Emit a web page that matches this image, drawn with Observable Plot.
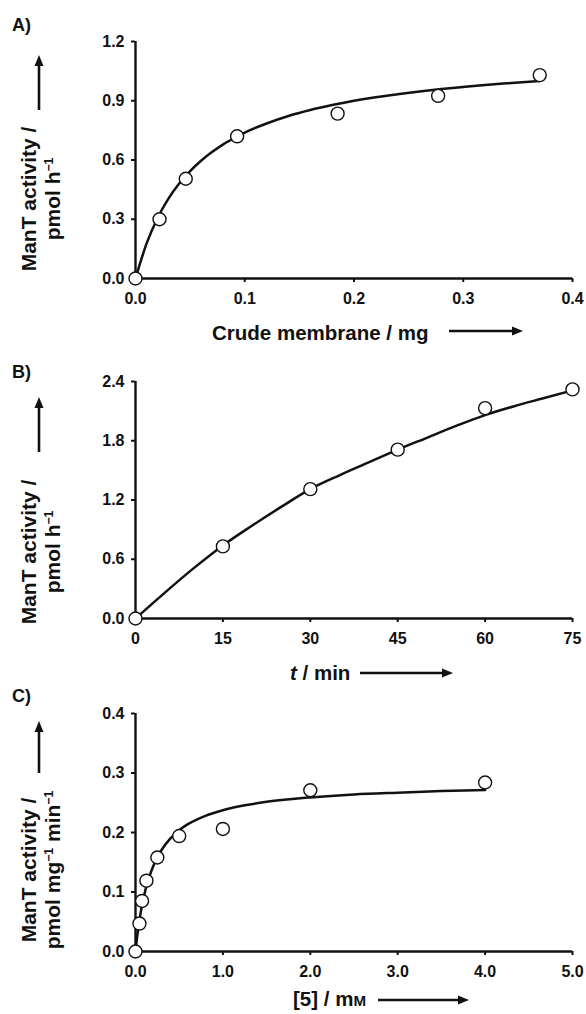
<!DOCTYPE html>
<html><head><meta charset="utf-8">
<script src="https://cdn.jsdelivr.net/npm/d3@7"></script>
<script src="https://cdn.jsdelivr.net/npm/@observablehq/plot@0.6"></script>
<style>
body{margin:0;background:#fff;}
#chart{width:586px;}
#chart svg{display:block;}
</style></head><body><div id="chart"></div>
<script>
// Panel A data
const membraneMg = [0, 0.022, 0.046, 0.093, 0.185, 0.277, 0.370];
const activityA = [0, 0.30, 0.505, 0.72, 0.835, 0.925, 1.03];
const fitMembraneMg = [0,0.01,0.02,0.03,0.04,0.05,0.06,0.07,0.08,0.09,0.10,0.12,0.14,0.16,0.18,0.20,0.22,0.24,0.26,0.28,0.30,0.32,0.34,0.37];
const fitActivityA = [0,0.175,0.304,0.403,0.481,0.544,0.596,0.640,0.678,0.710,0.739,0.785,0.823,0.853,0.878,0.900,0.918,0.933,0.947,0.959,0.970,0.980,0.988,1.0];
const ticksA_x = [0, 0.1, 0.2, 0.3, 0.4];
const ticksA_y = [0, 0.3, 0.6, 0.9, 1.2];

// Panel B data
const timeMin = [0, 15, 30, 45, 60, 75];
const activityB = [0, 0.73, 1.31, 1.71, 2.13, 2.32];
const fitTimeMin = [0,5,10,15,20,25,30,35,40,45,50,55,60,65,70,75];
const fitActivityB = [0,0.26,0.51,0.74,0.94,1.13,1.31,1.45,1.58,1.71,1.83,1.95,2.06,2.15,2.23,2.31];
const ticksB_x = [0, 15, 30, 45, 60, 75];
const ticksB_y = [0, 0.6, 1.2, 1.8, 2.4];

// Panel C data
const conc5 = [0, 0.045, 0.075, 0.125, 0.25, 0.5, 1.0, 2.0, 4.0];
const activityC = [0, 0.047, 0.085, 0.119, 0.158, 0.194, 0.206, 0.271, 0.284];
const fitConc5 = [0,0.02,0.04,0.06,0.08,0.1,0.125,0.15,0.2,0.25,0.3,0.4,0.5,0.6,0.8,1.0,1.25,1.5,2.0,2.5,3.0,3.5,4.0];
const fitActivityC = [0,0.026,0.0475,0.066,0.081,0.095,0.110,0.122,0.1425,0.158,0.171,0.19,0.204,0.214,0.228,0.2375,0.2457,0.2515,0.259,0.264,0.267,0.2696,0.2714];
const ticksC_x = [0, 1, 2, 3, 4, 5];
const ticksC_y = [0, 0.1, 0.2, 0.3, 0.4];

const FONT = "'Liberation Sans', Arial, Helvetica, sans-serif";
const INK = "#111";

function addText(svg, x, y, parts, {size = 19, rotate = false, anchor = "start"} = {}) {
  const t = svg.append("text")
    .attr("font-family", FONT).attr("font-weight", "bold")
    .attr("font-size", size).attr("fill", INK).attr("text-anchor", anchor);
  if (rotate) t.attr("transform", `translate(${x},${y}) rotate(-90)`);
  else t.attr("x", x).attr("y", y);
  let shift = 0;
  for (const p of parts) {
    const s = t.append("tspan").text(p.text);
    const want = p.sup ? -7 : 0;
    if (want !== shift) { s.attr("dy", want - shift); shift = want; }
    if (p.sup) s.attr("font-size", size * 0.58);
    if (p.small) s.attr("font-size", size * 0.74);
    if (p.italic) s.attr("font-style", "italic");
  }
  return t;
}

function addArrow(svg, x1, y1, x2, y2) {
  const dx = x2 - x1, dy = y2 - y1, L = Math.hypot(dx, dy);
  const ux = dx / L, uy = dy / L, head = 11, half = 4.5;
  const bx = x2 - ux * head, by = y2 - uy * head;
  svg.append("line").attr("x1", x1).attr("y1", y1).attr("x2", bx + ux).attr("y2", by + uy)
    .attr("stroke", INK).attr("stroke-width", 2.6);
  svg.append("path")
    .attr("d", `M${x2},${y2}L${bx - uy * half},${by + ux * half}L${bx + uy * half},${by - ux * half}Z`)
    .attr("fill", INK);
}

function panel(cfg) {
  const pts = cfg.xs.map((x, i) => ({x, y: cfg.ys[i]}));
  const fit = cfg.fx.map((x, i) => ({x, y: cfg.fy[i]}));
  const chart = Plot.plot({
    width: 586, height: cfg.height,
    marginLeft: 135, marginRight: 14, marginTop: cfg.marginTop, marginBottom: cfg.height - cfg.frameBottom,
    style: {fontFamily: FONT, fontSize: "16px", fontWeight: "bold", color: INK, background: "white"},
    x: {domain: [cfg.xTicks[0], cfg.xTicks[cfg.xTicks.length - 1]]},
    y: {domain: [cfg.yTicks[0], cfg.yTicks[cfg.yTicks.length - 1]]},
    marks: [
      Plot.axisX({ticks: cfg.xTicks, tickFormat: cfg.xFmt, tickSize: 4, tickPadding: 10, strokeWidth: 2, label: null}),
      Plot.axisY({ticks: cfg.yTicks, tickFormat: cfg.yFmt, tickSize: 4, tickPadding: 7, strokeWidth: 2, label: null}),
      Plot.ruleY([cfg.yTicks[0]], {stroke: INK, strokeWidth: 2.4}),
      Plot.ruleX([cfg.xTicks[0]], {stroke: INK, strokeWidth: 2.4}),
      Plot.line(fit, {x: "x", y: "y", stroke: INK, strokeWidth: 2.5, curve: "monotone-x"}),
      Plot.dot(pts, {x: "x", y: "y", r: 6.5, fill: "white", stroke: INK, strokeWidth: 1.4})
    ]
  });
  const svg = d3.select(chart);
  addText(svg, 12, cfg.letterY, [{text: cfg.letter}], {size: 18});
  addText(svg, 36, cfg.labelCY, [{text: "ManT activity /"}], {size: 21, rotate: true, anchor: "middle"});
  addText(svg, 60, cfg.labelCY, cfg.ylabel2, {size: 21, rotate: true, anchor: "middle"});
  addArrow(svg, 39, cfg.upArrow[0], 39, cfg.upArrow[1]);
  addText(svg, cfg.xlabelX, cfg.xlabelY, cfg.xlabel, {size: 20.5});
  addArrow(svg, cfg.rightArrow[0], cfg.rightArrow[2], cfg.rightArrow[1], cfg.rightArrow[2]);
  document.getElementById("chart").appendChild(chart);
}

panel({
  letter: "A)", letterY: 31, height: 344, marginTop: 41, frameBottom: 278,
  xs: membraneMg, ys: activityA, fx: fitMembraneMg, fy: fitActivityA,
  xTicks: ticksA_x, yTicks: ticksA_y, xFmt: d3.format(".1f"), yFmt: d3.format(".1f"),
  labelCY: 199, ylabel2: [{text: "pmol h"}, {text: "\u22121", sup: true}], upArrow: [110, 55],
  xlabel: [{text: "Crude membrane / mg"}], xlabelX: 212, xlabelY: 340, rightArrow: [449, 523, 331]
});
panel({
  letter: "B)", letterY: 34, height: 340, marginTop: 37, frameBottom: 274,
  xs: timeMin, ys: activityB, fx: fitTimeMin, fy: fitActivityB,
  xTicks: ticksB_x, yTicks: ticksB_y, xFmt: d3.format("d"), yFmt: d3.format(".1f"),
  labelCY: 208, ylabel2: [{text: "pmol h"}, {text: "\u22121", sup: true}], upArrow: [108, 53],
  xlabel: [{text: "t", italic: true}, {text: " / min"}], xlabelX: 290, xlabelY: 336, rightArrow: [360, 453, 329]
});
panel({
  letter: "C)", letterY: 18, height: 330, marginTop: 29, frameBottom: 267,
  xs: conc5, ys: activityC, fx: fitConc5, fy: fitActivityC,
  xTicks: ticksC_x, yTicks: ticksC_y, xFmt: d3.format(".1f"), yFmt: d3.format(".1f"),
  labelCY: 186, ylabel2: [{text: "pmol mg"}, {text: "\u22121", sup: true}, {text: " min"}, {text: "\u22121", sup: true}], upArrow: [89, 37],
  xlabel: [{text: "[5] / m"}, {text: "M", small: true}], xlabelX: 293, xlabelY: 322, rightArrow: [378, 469, 316]
});
</script>
</body></html>
